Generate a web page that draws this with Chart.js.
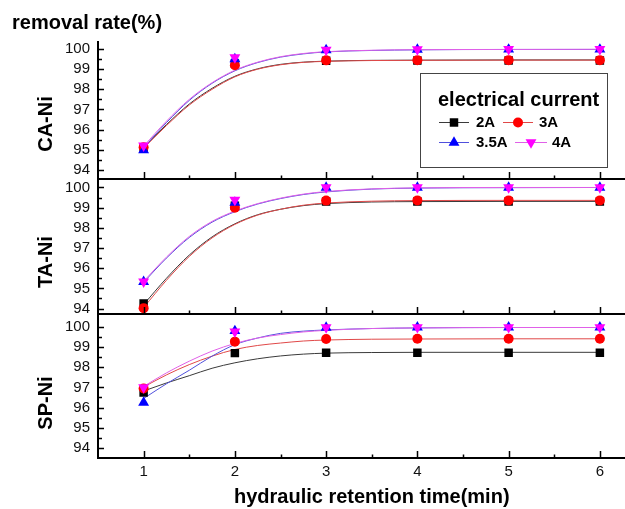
<!DOCTYPE html>
<html>
<head>
<meta charset="utf-8">
<script src="https://cdn.jsdelivr.net/npm/chart.js@4/dist/chart.umd.min.js"></script>
<style>
  html, body { margin: 0; padding: 0; background: #ffffff; }
  body { width: 625px; height: 509px; overflow: hidden; position: relative; }
  canvas { position: absolute; left: 0; top: 0; }
</style>
</head>
<body>
<canvas id="c1" width="660" height="509"></canvas>
<canvas id="c2" width="660" height="509"></canvas>
<canvas id="c3" width="660" height="509"></canvas>
<script>
// ---------------- DATA ----------------
const hrt = [1, 2, 3, 4, 5, 6];                 // hydraulic retention time (min)
const xTickLabels = [1, 2, 3, 4, 5, 6];
const yTickLabels = [94, 95, 96, 97, 98, 99, 100];
const seriesNames = ['2A', '3A', '3.5A', '4A'];
const panelNames = ['CA-Ni', 'TA-Ni', 'SP-Ni'];
const fitX = [1, 1.25, 1.5, 1.75, 2, 2.25, 2.5, 2.75, 3, 3.5, 4, 5, 6];

// CA-Ni measured
const caNi_2A  = [95.10, 99.28, 99.42, 99.43, 99.43, 99.43];
const caNi_3A  = [95.12, 99.20, 99.44, 99.45, 99.45, 99.45];
const caNi_35A = [94.98, 99.50, 99.95, 99.97, 99.98, 99.98];
const caNi_4A  = [95.20, 99.58, 99.96, 99.98, 99.99, 99.99];
// CA-Ni fitted curves
const caNi_fit_2A  = [95.12, 96.25, 97.27, 98.05, 98.65, 99.02, 99.24, 99.35, 99.40, 99.44, 99.45, 99.46, 99.46];
const caNi_fit_3A  = [95.08, 96.20, 97.22, 98.00, 98.62, 99.00, 99.22, 99.34, 99.39, 99.43, 99.44, 99.45, 99.45];
const caNi_fit_35A = [95.10, 96.35, 97.45, 98.30, 98.92, 99.33, 99.60, 99.76, 99.86, 99.93, 99.96, 99.98, 99.98];
const caNi_fit_4A  = [95.18, 96.42, 97.50, 98.33, 98.95, 99.35, 99.62, 99.78, 99.87, 99.94, 99.97, 99.98, 99.99];

// TA-Ni measured
const taNi_2A  = [94.25, 99.10, 99.30, 99.30, 99.30, 99.30];
const taNi_3A  = [94.02, 99.00, 99.35, 99.36, 99.36, 99.36];
const taNi_35A = [95.32, 99.25, 100.0, 100.0, 100.0, 100.0];
const taNi_4A  = [95.33, 99.38, 100.0, 100.0, 100.0, 100.0];
// TA-Ni fitted curves
const taNi_fit_2A  = [94.20, 95.50, 96.65, 97.55, 98.20, 98.65, 98.92, 99.10, 99.20, 99.28, 99.30, 99.31, 99.31];
const taNi_fit_3A  = [94.05, 95.40, 96.58, 97.50, 98.17, 98.63, 98.92, 99.12, 99.23, 99.32, 99.35, 99.36, 99.36];
const taNi_fit_35A = [95.30, 96.50, 97.52, 98.28, 98.80, 99.18, 99.45, 99.65, 99.78, 99.92, 99.97, 99.99, 100.0];
const taNi_fit_4A  = [95.35, 96.55, 97.57, 98.32, 98.83, 99.20, 99.47, 99.67, 99.80, 99.93, 99.98, 100.0, 100.0];

// SP-Ni measured
const spNi_2A  = [96.75, 98.70, 98.72, 98.72, 98.72, 98.72];
const spNi_3A  = [96.95, 99.27, 99.40, 99.41, 99.41, 99.41];
const spNi_35A = [96.25, 99.80, 99.97, 99.98, 99.98, 99.98];
const spNi_4A  = [97.00, 99.76, 99.97, 99.98, 99.98, 99.98];
// SP-Ni fitted curves
const spNi_fit_2A  = [96.82, 97.22, 97.58, 97.95, 98.22, 98.42, 98.56, 98.65, 98.70, 98.73, 98.74, 98.74, 98.74];
const spNi_fit_3A  = [97.02, 97.62, 98.13, 98.55, 98.88, 99.08, 99.20, 99.30, 99.35, 99.39, 99.40, 99.41, 99.41];
const spNi_fit_35A = [96.45, 97.18, 97.85, 98.55, 99.12, 99.45, 99.68, 99.79, 99.85, 99.92, 99.95, 99.97, 99.97];
const spNi_fit_4A  = [97.05, 97.72, 98.30, 98.80, 99.18, 99.45, 99.62, 99.75, 99.83, 99.92, 99.95, 99.97, 99.97];

// ---------------- STYLE ----------------
const FONT = "'Liberation Sans', Arial, Helvetica, sans-serif";
Chart.defaults.font.family = FONT;
Chart.defaults.color = '#000';
const markerColors = ['#000000', '#ff0000', '#0000ff', '#ff00ff'];
const fitColors = ['#3a3a3a', '#e04848', '#5050dc', '#e060e8'];
const markerStyles = [
  { style: 'rect', radius: 6, rotation: 0 },
  { style: 'circle', radius: 5, rotation: 0 },
  { style: 'triangle', radius: 6.3, rotation: 0 },
  { style: 'triangle', radius: 6.3, rotation: 180 }
];

function drawMarker(ctx, i, x, y) {
  const m = markerStyles[i];
  ctx.save();
  ctx.fillStyle = markerColors[i];
  ctx.beginPath();
  if (m.style === 'rect') {
    const s = m.radius * Math.SQRT1_2;
    ctx.rect(x - s, y - s, 2 * s, 2 * s);
  } else if (m.style === 'circle') {
    ctx.arc(x, y, m.radius, 0, Math.PI * 2);
  } else {
    const r = m.radius, d = m.rotation === 180 ? -1 : 1;
    ctx.moveTo(x, y - d * r);
    ctx.lineTo(x + 0.866 * r, y + d * 0.5 * r);
    ctx.lineTo(x - 0.866 * r, y + d * 0.5 * r);
    ctx.closePath();
  }
  ctx.fill();
  ctx.restore();
}

function makeDatasets(measured, fits) {
  const ds = [];
  measured.forEach((vals, i) => {
    ds.push({
      label: seriesNames[i],
      data: hrt.map((x, j) => ({ x: x, y: vals[j] })),
      showLine: false,
      pointStyle: markerStyles[i].style,
      pointRadius: markerStyles[i].radius,
      pointRotation: markerStyles[i].rotation,
      pointBackgroundColor: markerColors[i],
      pointBorderColor: markerColors[i],
      pointBorderWidth: 0,
      borderColor: markerColors[i],
      backgroundColor: markerColors[i],
      order: 3 - i
    });
  });
  fits.forEach((vals, i) => {
    ds.push({
      label: seriesNames[i] + ' fit',
      data: fitX.map((x, j) => ({ x: x, y: vals[j] })),
      borderColor: fitColors[i],
      borderWidth: 1,
      pointRadius: 0,
      cubicInterpolationMode: 'monotone',
      fill: false,
      order: 13 - i
    });
  });
  return ds;
}

function framePlugin(panelLabel, labelY, withLegend) {
  return {
    id: 'frame',
    afterDraw(chart) {
      const ctx = chart.ctx;
      const a = chart.chartArea;
      const xs = chart.scales.x, ys = chart.scales.y;
      ctx.save();
      ctx.strokeStyle = '#000';
      ctx.lineWidth = 2;
      ctx.beginPath();
      ctx.moveTo(a.left, a.top);
      ctx.lineTo(a.left, a.bottom);
      ctx.moveTo(a.left - 1, a.bottom);
      ctx.lineTo(a.right, a.bottom);
      ctx.stroke();
      ctx.lineWidth = 1.5;
      ctx.beginPath();
      // y ticks (inward)
      yTickLabels.forEach((v, k) => {
        const py = Math.round(ys.getPixelForValue(v)) + 0.5;
        ctx.moveTo(a.left, py); ctx.lineTo(a.left + 6, py);
        if (k < yTickLabels.length - 1) {
          const pm = Math.round(ys.getPixelForValue(v + 0.5)) + 0.5;
          ctx.moveTo(a.left, pm); ctx.lineTo(a.left + 4, pm);
        }
      });
      // x ticks (inward, upward)
      xTickLabels.forEach((v) => {
        const px = Math.round(xs.getPixelForValue(v)) + 0.5;
        ctx.moveTo(px, a.bottom); ctx.lineTo(px, a.bottom - 7);
        const pm = Math.round(xs.getPixelForValue(v + 0.5)) + 0.5;
        ctx.moveTo(pm, a.bottom); ctx.lineTo(pm, a.bottom - 3.5);
      });
      ctx.stroke();

      // panel label
      ctx.save();
      ctx.translate(46, labelY);
      ctx.rotate(-Math.PI / 2);
      ctx.font = 'bold 20px ' + FONT;
      ctx.fillStyle = '#000';
      ctx.textAlign = 'center';
      ctx.textBaseline = 'middle';
      ctx.fillText(panelLabel, 0, 0);
      ctx.restore();

      if (withLegend) {
        ctx.strokeStyle = '#444';
        ctx.lineWidth = 1;
        ctx.strokeRect(420.5, 73.5, 187, 94);
        ctx.fillStyle = '#000';
        ctx.font = 'bold 20px ' + FONT;
        ctx.textAlign = 'left';
        ctx.textBaseline = 'middle';
        ctx.fillText('electrical current', 438, 100);
        const items = [
          { l0: 439, l1: 469, mx: 454, tx: 476, y: 122 },
          { l0: 503, l1: 533, mx: 518, tx: 539, y: 122 },
          { l0: 439, l1: 469, mx: 454, tx: 476, y: 142 },
          { l0: 515, l1: 547, mx: 531, tx: 552, y: 142 }
        ];
        items.forEach((it, i) => {
          ctx.strokeStyle = fitColors[i];
          ctx.lineWidth = 1;
          ctx.beginPath();
          ctx.moveTo(it.l0, it.y + 0.5); ctx.lineTo(it.l1, it.y + 0.5);
          ctx.stroke();
          drawMarker(ctx, i, it.mx, it.y + 0.5);
          ctx.fillStyle = '#000';
          ctx.font = 'bold 15px ' + FONT;
          ctx.fillText(seriesNames[i], it.tx, it.y + 1);
        });
      }
      ctx.restore();
    }
  };
}

function makePanel(canvasId, measured, fits, opts) {
  return new Chart(document.getElementById(canvasId), {
    type: 'line',
    data: { datasets: makeDatasets(measured, fits) },
    options: {
      responsive: false,
      animation: false,
      events: [],
      layout: { autoPadding: false, padding: { left: 12, top: opts.top, right: 14.5, bottom: 0 } },
      plugins: {
        legend: { display: false },
        tooltip: { enabled: false },
        title: opts.title ? {
          display: true, text: opts.title, align: 'start', color: '#000',
          font: { size: 20, weight: 'bold' }, padding: { top: 11, bottom: 6 }
        } : { display: false }
      },
      scales: {
        x: {
          type: 'linear', min: 0.5, max: 6.5,
          grid: { display: false, drawTicks: false },
          border: { display: false },
          afterBuildTicks: (s) => { s.ticks = xTickLabels.map(v => ({ value: v })); },
          ticks: { display: opts.showX, padding: 5, font: { size: 15 }, color: '#111' },
          title: opts.showX ? {
            display: true, text: 'hydraulic retention time(min)', color: '#000',
            font: { size: 20, weight: 'bold' }, padding: { top: 0, bottom: 0 }
          } : { display: false },
          afterFit: (s) => { s.height = opts.xHeight; }
        },
        y: {
          type: 'linear', min: opts.ymin, max: opts.ymax,
          grid: { display: false, drawTicks: false },
          border: { display: false },
          afterBuildTicks: (s) => { s.ticks = yTickLabels.map(v => ({ value: v })); },
          ticks: { padding: 8, font: { size: 15 }, color: '#111' },
          afterFit: (s) => { s.width = 86; }
        }
      }
    },
    plugins: [framePlugin(opts.label, opts.labelY, opts.legend)]
  });
}

makePanel('c1', [caNi_2A, caNi_3A, caNi_35A, caNi_4A],
  [caNi_fit_2A, caNi_fit_3A, caNi_fit_35A, caNi_fit_4A],
  { top: 0, title: 'removal rate(%)', xHeight: 509 - 179, ymin: 93.55, ymax: 100.4,
    showX: false, label: panelNames[0], labelY: 124, legend: true });
makePanel('c2', [taNi_2A, taNi_3A, taNi_35A, taNi_4A],
  [taNi_fit_2A, taNi_fit_3A, taNi_fit_35A, taNi_fit_4A],
  { top: 179, title: null, xHeight: 509 - 314, ymin: 93.73, ymax: 100.42,
    showX: false, label: panelNames[1], labelY: 262, legend: false });
makePanel('c3', [spNi_2A, spNi_3A, spNi_35A, spNi_4A],
  [spNi_fit_2A, spNi_fit_3A, spNi_fit_35A, spNi_fit_4A],
  { top: 314, title: null, xHeight: 509 - 458, ymin: 93.5, ymax: 100.64,
    showX: true, label: panelNames[2], labelY: 403, legend: false });
</script>
</body>
</html>
